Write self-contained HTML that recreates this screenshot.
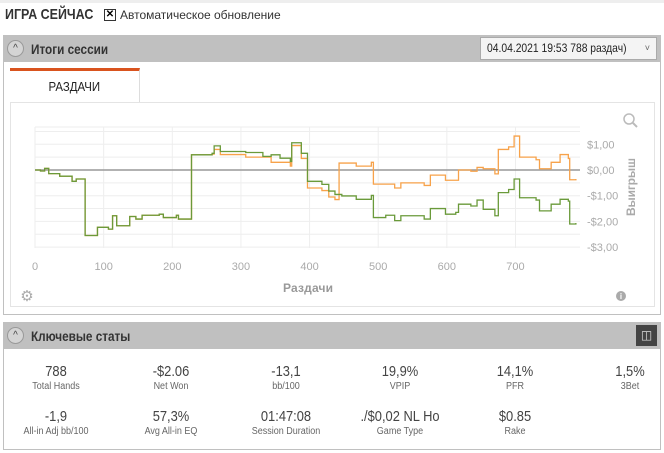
<!DOCTYPE html>
<html><head><meta charset="utf-8"><style>
*{box-sizing:border-box}
body{margin:0;width:664px;height:453px;background:#fff;font-family:"Liberation Sans",sans-serif;position:relative;overflow:hidden}
.abs{position:absolute}
.nar{transform:scaleX(0.86);transform-origin:left center;white-space:nowrap}
.bar{position:absolute;left:3px;width:658px;height:27px;background:#c0c0c0}
.circ{position:absolute;left:4px;top:5px;width:17px;height:17px;border:1px solid #999;border-radius:50%;background:#d4d4d4;font-size:10px;text-align:center;line-height:15px;color:#444}
.bt{position:absolute;left:28px;top:6px;font-size:13px;font-weight:bold;color:#333}
.stat{position:absolute;width:110px;text-align:center;color:#444;white-space:nowrap}
.stat .v{font-size:15px;transform:scaleX(0.86)}
.stat .l{font-size:10px;color:#666;margin-top:1px;transform:scaleX(0.9)}
</style></head><body>
<div class="abs" style="left:0;top:0;width:664px;height:3px;background:#eee"></div>
<div class="abs nar" style="left:5px;top:6px;font-size:15px;font-weight:bold;color:#333;transform:scaleX(0.83)">ИГРА СЕЙЧАС</div>
<div class="abs" style="left:104px;top:9px;width:12px;height:12px;border:1px solid #333;font-size:10px;line-height:10px;text-align:center;font-weight:bold">✕</div>
<div class="abs" style="left:120px;top:8px;font-size:12px;color:#333;white-space:nowrap">Автоматическое обновление</div>
<div class="abs" style="left:3px;top:35px;width:658px;height:280px;border:1px solid #c0c0c0"></div>
<div class="bar" style="top:35px">
 <div class="circ">^</div>
 <div class="bt nar" style="font-size:14px;transform:scaleX(0.84)">Итоги сессии</div>
 <div class="abs" style="left:477px;top:2px;width:177px;height:23px;background:#f4f4f4;border:1px solid #aaa;font-size:12px;line-height:21px;padding-left:6px;color:#222"><span class="nar" style="display:inline-block">04.04.2021 19:53 788 раздач)</span><span style="position:absolute;right:6px;top:0;font-size:9px;color:#666">˅</span></div>
</div>
<div class="abs" style="left:10px;top:68px;width:130px;height:35px;border-top:3px solid #d9531e;border-right:1px solid #ddd;font-size:13px;text-align:center;line-height:32px;color:#222"><span style="display:inline-block;transform:scaleX(0.88)">РАЗДАЧИ</span></div>
<div class="abs" style="left:10px;top:102px;width:645px;height:205px;border:1px solid #e4e4e4"></div>
<svg class="abs" style="left:0;top:0" width="664" height="320">
<g id="grid"></g><g id="lines"></g><g id="labels"></g>
<circle cx="629" cy="119" r="5" fill="none" stroke="#bbb" stroke-width="1.5"/>
<line x1="633" y1="123" x2="637" y2="127" stroke="#bbb" stroke-width="2"/>
<text x="27" y="301" font-size="15" fill="#aaa" text-anchor="middle">⚙</text>
<circle cx="621" cy="296" r="5" fill="#aaa"/>
<text x="621" y="299" font-size="8" fill="#fff" text-anchor="middle" font-weight="bold">i</text>
<text x="308" y="292" font-size="12" font-weight="bold" fill="#999" text-anchor="middle" textLength="50">Раздачи</text>
<text x="635" y="187" font-size="12" font-weight="bold" fill="#aaa" text-anchor="middle" textLength="58" transform="rotate(-90 635 187)">Выигрыш</text>
</svg>
<div class="abs" style="left:3px;top:322px;width:658px;height:128px;border:1px solid #c0c0c0"></div>
<div class="bar" style="top:322px">
 <div class="circ">^</div>
 <div class="bt nar" style="font-size:14px;transform:scaleX(0.84)">Ключевые статы</div>
 <div class="abs" style="left:633px;top:3px;width:21px;height:21px;background:#444;color:#ddd;font-size:12px;text-align:center;line-height:20px">◫</div>
</div>
<div id="stats"></div>
<script>
const xTicks=[0,100,200,300,400,500,600,700];
const yTicks=[1,0,-1,-2,-3];
const yTickLabels=["$1,00","$0,00","-$1,00","-$2,00","-$3,00"];
const greenHands=[0,8,14,20,36,54,60,71,73,82,91,107,113,119,131,138,147,156,181,187,206,209,225,228,258,261,270,307,332,344,357,372,374,388,397,418,428,437,447,468,490,493,511,524,533,567,576,598,613,617,635,644,653,670,675,690,698,706,730,735,752,765,777,779,788];
const greenValues=[0,-0.04,0.06,-0.14,-0.24,-0.44,-0.35,-0.35,-2.55,-2.55,-2.23,-2.3,-1.78,-2.17,-2.17,-1.81,-1.91,-1.76,-1.72,-1.85,-1.76,-1.91,-1.91,0.59,0.65,0.94,0.72,0.68,0.53,0.59,0.46,0.33,1.06,0.65,-0.44,-0.56,-0.82,-0.95,-1.01,-1.14,-0.99,-1.85,-1.76,-1.97,-1.78,-1.91,-1.5,-1.72,-1.65,-1.33,-1.4,-1.17,-1.53,-1.78,-0.88,-0.76,-0.35,-1.08,-1.17,-1.59,-1.33,-1.14,-1.21,-2.1,-2.06];
const orangeHands=[0,8,14,20,36,54,60,71,73,82,91,107,113,119,131,138,147,156,181,187,206,209,225,228,258,261,270,307,344,372,374,388,397,418,428,437,440,443,468,490,493,524,533,567,576,598,613,617,635,644,653,670,675,690,698,706,730,735,752,765,777,779,788];
const orangeValues=[0,-0.04,0.06,-0.14,-0.24,-0.44,-0.35,-0.35,-2.55,-2.55,-2.23,-2.3,-1.78,-2.17,-2.17,-1.81,-1.91,-1.76,-1.72,-1.85,-1.76,-1.91,-1.91,0.59,0.62,0.8,0.6,0.5,0.3,0.15,0.95,0.45,-0.7,-0.8,-1.05,-1.15,-1.15,0.27,0.15,0.3,-0.55,-0.7,-0.5,-0.6,-0.2,-0.4,-0.4,0,-0.05,0.1,0.05,-0.15,0.8,0.9,1.32,0.5,0.4,0.05,0.3,0.6,0.45,-0.38,-0.35];
const NS='http://www.w3.org/2000/svg';
const X0=35,X1=580,XMAX=794,Y0=170,PPD=25.7,YT=127,YB=248;
const xs=v=>X0+v*(X1-X0)/XMAX, ys=v=>Y0-v*PPD;
function mk(t,a,p){const e=document.createElementNS(NS,t);for(const k in a)e.setAttribute(k,a[k]);document.getElementById(p).appendChild(e);return e;}
for(let v=-3;v<=1.5;v+=0.5){const g=mk('line',{x1:X0,x2:X1,y1:ys(v),y2:ys(v),stroke:'#eee'},'grid');

}
mk('line',{x1:X0,x2:X1,y1:YT,y2:YT,stroke:'#eee'},'grid');
xTicks.forEach(t=>{const g=mk('line',{x1:xs(t),x2:xs(t),y1:YT,y2:YB,stroke:'#eee'},'grid');


const l=mk('text',{x:xs(t),y:270,'font-size':11,fill:'#aaa','text-anchor':'middle'},'labels');l.textContent=t;

});
yTicks.forEach((t,i)=>{const l=mk('text',{x:587,y:ys(t)+4,'font-size':11,fill:'#aaa'},'labels');l.textContent=yTickLabels[i];

});
const z=mk('line',{x1:X0,x2:X1,y1:ys(0),y2:ys(0),stroke:'#999','stroke-width':1.5},'grid');


function step(h,v){let p=`M${xs(h[0])},${ys(v[0])}`;for(let i=1;i<h.length;i++){p+=` H${xs(h[i])} V${ys(v[i])}`;}return p;}
const o=mk('path',{d:step(orangeHands,orangeValues),fill:'none',stroke:'#f7a24a','stroke-width':1.3},'lines');


const g=mk('path',{d:step(greenHands,greenValues),fill:'none',stroke:'#6a9a3a','stroke-width':1.3},'lines');


const stats=[["788","Total Hands"],["-$2.06","Net Won"],["-13,1","bb/100"],["19,9%","VPIP"],["14,1%","PFR"],["1,5%","3Bet"],["-1,9","All-in Adj bb/100"],["57,3%","Avg All-in EQ"],["01:47:08","Session Duration"],["./$0,02 NL Ho","Game Type"],["$0.85","Rake"]];
const sc=document.getElementById('stats');
stats.forEach((s,i)=>{const d=document.createElement('div');d.className='stat';


const c=i%6,r=Math.floor(i/6);d.style.left=(56+c*114.8-55)+'px';d.style.top=(363+r*45)+'px';
d.innerHTML=`<div class="v">${s[0]}</div><div class="l">${s[1]}</div>`;sc.appendChild(d);});
</script>
</body></html>
